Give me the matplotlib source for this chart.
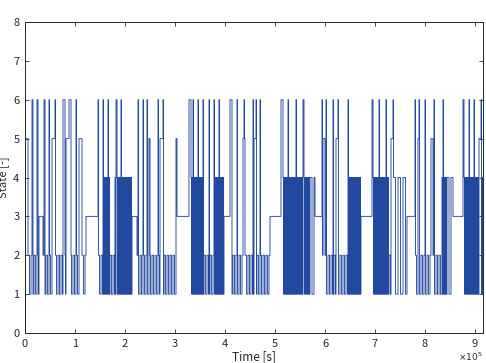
import numpy as np
import matplotlib
matplotlib.use("Agg")
import matplotlib.pyplot as plt

# ---- data (times in kiloseconds) ----
# operating segments: state toggles between low and high every `dwell` ks
seg_start = [0, 28, 36, 122, 146, 156, 170, 180, 214, 224, 304, 328, 358, 380, 398,
             410, 490, 512, 570, 580, 594, 646, 672, 694, 728, 736, 764, 780, 834,
             844, 856, 876]
seg_end = [28, 36, 122, 146, 156, 170, 180, 214, 224, 304, 328, 358, 380, 398, 410,
           490, 512, 570, 580, 594, 646, 672, 694, 728, 736, 764, 780, 834, 844,
           856, 876, 917]
seg_low = [1, 3, 1, 3, 1, 1, 1, 1, 3, 1, 3, 1, 1, 1, 3,
           1, 3, 1, 1, 3, 1, 1, 3, 1, 1, 1, 3, 1, 1,
           1, 3, 1]
seg_high = [2, 3, 2, 3, 2, 4, 2, 4, 3, 2, 3, 4, 2, 4, 3,
            2, 3, 4, 4, 3, 2, 4, 3, 4, 2, 4, 3, 2, 4,
            4, 3, 4]
seg_dwell = [3, 1, 3, 1, 3, 1, 3, 1, 1, 3, 1, 1, 3, 1, 1,
             3, 1, 1, 4, 1, 3, 1, 1, 1, 3, 5, 1, 3, 1,
             4, 1, 1]

# short excursions to state 6
spike6_start = [14, 24, 38, 48, 60, 76, 88, 102, 146, 156, 166, 182, 192, 226, 236,
                244, 266, 276, 328, 336, 346, 356, 368, 378, 388, 410, 424, 438, 456,
                462, 470, 512, 526, 542, 556, 594, 602, 616, 626, 646, 694, 708, 722,
                736, 780, 788, 800, 818, 836, 876, 888, 898, 912]
spike6_end = [16, 26, 40, 49, 61, 80, 92, 103, 147, 157, 167, 184, 193, 227, 237,
              245, 267, 277, 332, 337, 347, 357, 369, 379, 389, 414, 425, 439, 457,
              463, 471, 516, 527, 543, 558, 595, 603, 617, 627, 647, 696, 709, 723,
              737, 781, 789, 801, 819, 837, 878, 889, 899, 913]
# excursions to state 5
spike5_start = [1, 54, 82, 108, 248, 270, 302, 436, 458, 596, 622, 732, 786, 812, 908]
spike5_end = [6, 60, 88, 114, 250, 276, 304, 440, 462, 600, 626, 736, 788, 816, 912]

x_ticks = [0, 1e5, 2e5, 3e5, 4e5, 5e5, 6e5, 7e5, 8e5, 9e5]
x_ticklabels = ["0", "1", "2", "3", "4", "5", "6", "7", "8", "9"]
y_ticks = [0, 1, 2, 3, 4, 5, 6, 7, 8]

# ---- build the state sequence ----
t_ks = np.arange(0, 917)
state = np.zeros(len(t_ks))
for s, e, lo, hi, d in zip(seg_start, seg_end, seg_low, seg_high, seg_dwell):
    idx = np.arange(s, e)
    phase = ((idx - s) // d) % 2
    state[s:e] = np.where(phase == 0, hi, lo)
for s, e in zip(spike5_start, spike5_end):
    state[s:e] = 5
for s, e in zip(spike6_start, spike6_end):
    state[s:e] = 6
state[0] = 0

# ---- plot ----
plt.rcParams['font.family'] = ['Noto Sans CJK JP', 'DejaVu Sans']
fig = plt.figure(figsize=(4.86, 3.63), dpi=100)
ax = fig.add_axes([25/486, 30/363, 458/486, 311/363])
ax.plot(t_ks * 1e3, state, drawstyle='steps-post', color='#2249a0', lw=0.65)

ax.set_xlim(0, 916000)
ax.set_ylim(0, 8)
ax.set_xticks(x_ticks)
ax.set_xticklabels(x_ticklabels)
ax.set_yticks(y_ticks)
tc = '#262626'
ax.tick_params(direction='in', length=3, width=0.6, top=True, right=True,
               labelsize=8, colors=tc, pad=4)
for sp in ax.spines.values():
    sp.set_color(tc)
    sp.set_linewidth(0.7)
ax.set_xlabel('Time [s]', fontsize=8.5, color=tc)
ax.xaxis.set_label_coords(0.5, -0.055)
ax.set_ylabel('State [-]', fontsize=8, color=tc)
ax.yaxis.set_label_coords(-0.034, 0.5)
fig.text(483/486, 0/363, r'$\times10^{5}$', ha='right', va='bottom', fontsize=6.5, color=tc)

fig.savefig('out.png', dpi=100)
